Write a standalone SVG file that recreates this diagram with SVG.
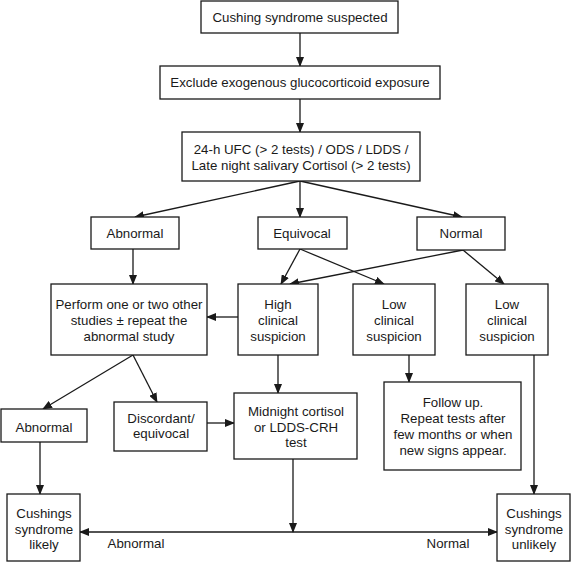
<svg xmlns="http://www.w3.org/2000/svg" width="572" height="563" viewBox="0 0 572 563">
<defs>
<marker id="ah" markerWidth="10" markerHeight="8" refX="9" refY="4" orient="auto" markerUnits="userSpaceOnUse">
<path d="M0,0 L10,4 L0,8 Z" fill="#1a1a1a"/>
</marker>
<style>
rect{fill:#fff;stroke:#1a1a1a;stroke-width:1.3}
text{font-family:"Liberation Sans",Arial,sans-serif;font-size:13.3px;fill:#1a1a1a;text-anchor:middle}
.c line,.c polyline{stroke:#1a1a1a;stroke-width:1.3;fill:none}
.a{marker-end:url(#ah)}
</style>
</defs>
<rect x="0" y="0" width="572" height="563" style="stroke:none"/>
<g class="c" id="connectors">
<line class="a" x1="300" y1="33" x2="300" y2="66"/>
<line class="a" x1="300" y1="99" x2="300" y2="132"/>
<line class="a" x1="300" y1="181" x2="135" y2="217"/>
<line class="a" x1="300" y1="181" x2="300" y2="217"/>
<line class="a" x1="300" y1="181" x2="462" y2="217"/>
<line class="a" x1="133" y1="249" x2="133" y2="284"/>
<line class="a" x1="300" y1="249" x2="281" y2="284"/>
<line class="a" x1="300" y1="249" x2="384" y2="284"/>
<line class="a" x1="463" y1="250" x2="290" y2="284"/>
<line class="a" x1="463" y1="250" x2="504" y2="284"/>
<line class="a" x1="238" y1="317" x2="207" y2="317"/>
<line class="a" x1="133" y1="355" x2="43" y2="409"/>
<line class="a" x1="133" y1="355" x2="157" y2="402"/>
<line class="a" x1="278" y1="355" x2="278" y2="393"/>
<line class="a" x1="409" y1="355" x2="409" y2="382"/>
<line class="a" x1="534" y1="355" x2="534" y2="494"/>
<line class="a" x1="207" y1="423" x2="234" y2="423"/>
<line class="a" x1="40" y1="442" x2="40" y2="494"/>
<line class="a" x1="293" y1="459" x2="293" y2="532"/>
<line class="a" x1="293" y1="532" x2="80" y2="532"/>
<line class="a" x1="293" y1="532" x2="497" y2="532"/>
<text x="136" y="548">Abnormal</text>
<text x="448" y="548">Normal</text>
</g>
<g id="n1"><rect x="201" y="1" width="197" height="32"/><text x="300" y="22">Cushing syndrome suspected</text></g>
<g id="n2"><rect x="160" y="66" width="280" height="33"/><text x="300" y="87">Exclude exogenous glucocorticoid exposure</text></g>
<g id="n3"><rect x="182" y="132" width="238" height="49"/><text x="301" y="153.5">24-h UFC (&gt; 2 tests) / ODS / LDDS /</text><text x="301" y="169.5">Late night salivary Cortisol (&gt; 2 tests)</text></g>
<g id="n4"><rect x="91" y="217" width="88" height="32"/><text x="135" y="238">Abnormal</text></g>
<g id="n5"><rect x="258" y="217" width="89" height="32"/><text x="302" y="238">Equivocal</text></g>
<g id="n6"><rect x="417" y="217" width="88" height="33"/><text x="461" y="238">Normal</text></g>
<g id="n7"><rect x="51" y="284" width="156" height="71"/><text x="129" y="309">Perform one or two other</text><text x="129" y="325">studies ± repeat the</text><text x="129" y="341">abnormal study</text></g>
<g id="n8"><rect x="238" y="284" width="80" height="71"/><text x="278" y="309">High</text><text x="278" y="325">clinical</text><text x="278" y="341">suspicion</text></g>
<g id="n9"><rect x="353" y="284" width="82" height="71"/><text x="394" y="309">Low</text><text x="394" y="325">clinical</text><text x="394" y="341">suspicion</text></g>
<g id="n10"><rect x="466" y="284" width="82" height="71"/><text x="507" y="309">Low</text><text x="507" y="325">clinical</text><text x="507" y="341">suspicion</text></g>
<g id="n11"><rect x="1" y="409" width="86" height="33"/><text x="44" y="431.5">Abnormal</text></g>
<g id="n12"><rect x="114" y="402" width="93" height="49"/><text x="161" y="422.5">Discordant/</text><text x="161" y="438">equivocal</text></g>
<g id="n13"><rect x="234" y="393" width="123" height="66"/><text x="296" y="416">Midnight cortisol</text><text x="296" y="431.5">or LDDS-CRH</text><text x="296" y="447">test</text></g>
<g id="n14"><rect x="384" y="382" width="137" height="88"/><text x="453" y="407">Follow up.</text><text x="453" y="423">Repeat tests after</text><text x="453" y="439">few months or when</text><text x="453" y="455">new signs appear.</text></g>
<g id="n15"><rect x="7" y="494" width="73" height="67"/><text x="44" y="518">Cushings</text><text x="44" y="533.5">syndrome</text><text x="44" y="549">likely</text></g>
<g id="n16"><rect x="497" y="494" width="73" height="67"/><text x="534" y="518">Cushings</text><text x="534" y="533.5">syndrome</text><text x="534" y="549">unlikely</text></g>
</svg>
